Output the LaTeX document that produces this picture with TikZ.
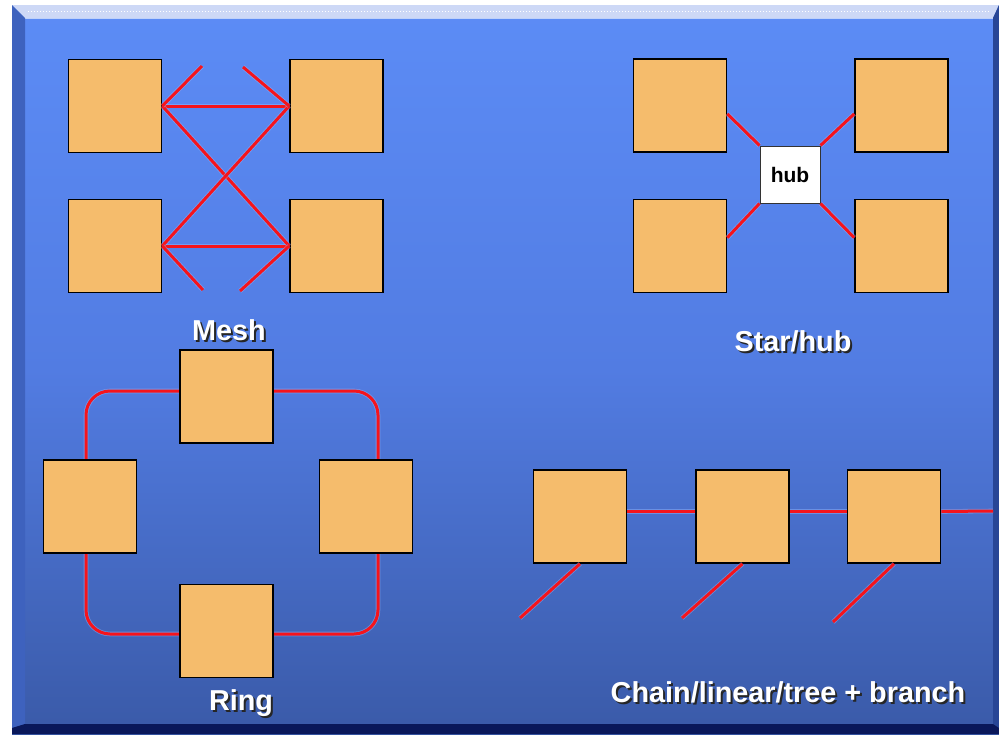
\documentclass[tikz,border=0pt]{standalone}
\usepackage{fontspec}
\setmainfont{Liberation Sans}
\usetikzlibrary{shadings}

\definecolor{panelTop}{RGB}{92,140,246}
\definecolor{panelMid}{RGB}{82,124,226}
\definecolor{panelBot}{RGB}{58,90,168}
\definecolor{bevelTop}{RGB}{205,216,246}
\definecolor{bevelLeft}{RGB}{62,98,190}
\definecolor{bevelRight}{RGB}{40,70,150}
\definecolor{navy}{RGB}{10,24,90}
\definecolor{boxFill}{RGB}{245,188,108}
\definecolor{wire}{RGB}{245,20,28}
\definecolor{halo}{RGB}{150,185,255}

% white caption with a dark drop shadow, set as one piece of text
\newcommand\shadowed[1]{\makebox[0pt][l]{\hspace{2pt}\raisebox{-2pt}{\textcolor{black!85}{#1}}}#1}

\tikzset{
  unit/.style={rectangle, draw=black, line width=1.6pt, fill=boxFill,
    minimum width=93pt, minimum height=93pt, inner sep=0pt},
  hubbox/.style={rectangle, draw=black!80, line width=1pt, fill=white,
    minimum width=60pt, minimum height=57pt, inner sep=0pt,
    font=\fontsize{21}{21}\selectfont\bfseries},
  link/.style={draw=wire, line width=3pt,
    preaction={draw=halo, line width=4.6pt, opacity=0.45}},
  caption/.style={text=white, font=\fontsize{28.8}{29}\selectfont\bfseries, inner sep=0pt}
}

\begin{document}
\begin{tikzpicture}[x=1pt, y=-1pt]
\useasboundingbox (0,0) rectangle (999,734);
\fill[white] (0,0) rectangle (999,734);

% panel with bevelled frame
\shade[top color=panelTop, bottom color=panelBot, middle color=panelMid]
  (12,5) rectangle (999,734);
\fill[bevelTop] (12,5) -- (999,5) -- (993,18) -- (25,18) -- cycle;
\draw[white, line width=1pt, dotted] (28,11) -- (990,11);
\draw[white!60!panelTop, line width=1pt] (25,18.5) -- (993,18.5);
\fill[bevelLeft] (12,5) -- (25,18) -- (25,724) -- (12,734) -- cycle;
\fill[bevelRight] (993,18) -- (999,5) -- (999,734) -- (993,728) -- cycle;
\fill[navy] (12,728) -- (25,724) -- (993,724) -- (999,728) -- (999,734) -- (12,734) -- cycle;

% ---- Mesh ----
\node[unit] (mTL) at (115,106) {};
\node[unit] (mTR) at (336.5,106) {};
\node[unit] (mBL) at (115,246) {};
\node[unit] (mBR) at (336.5,246) {};
\coordinate (mS1) at (202,66);
\coordinate (mS2) at (243,67);
\coordinate (mS3) at (203,290);
\coordinate (mS4) at (240,291);
\draw[link] (mTL.east) -- (mTR.west);
\draw[link] (mBL.east) -- (mBR.west);
\draw[link] (mTL.east) -- (mBR.west);
\draw[link] (mBL.east) -- (mTR.west);
\draw[link] (mTL.east) -- (mS1);
\draw[link] (mTR.west) -- (mS2);
\draw[link] (mBL.east) -- (mS3);
\draw[link] (mBR.west) -- (mS4);
\node[caption] (mesh) at (229,331) {\shadowed{Mesh}};

% ---- Star / hub ----
\node[unit] (sTL) at (680,105.5) {};
\node[unit] (sTR) at (901.5,105.5) {};
\node[unit] (sBL) at (680,246) {};
\node[unit] (sBR) at (901.5,246) {};
\node[hubbox] (hub) at (790,174.5) {hub};
\draw[link] (sTL.-10) -- (hub.north west);
\draw[link] (sTR.190) -- (hub.north east);
\draw[link] (sBL.10) -- (hub.south west);
\draw[link] (sBR.170) -- (hub.south east);
\node[caption] (star) at (793,342) {\shadowed{Star/hub}};

% ---- Ring ----
\draw[link, rounded corners=24pt]
  (226.5,391) -- (86,391) -- (86,634) -- (378,634) -- (378,391) -- cycle;
\node[unit] (rT) at (226.5,396.5) {};
\node[unit] (rL) at (90,506.5) {};
\node[unit] (rR) at (366,506.5) {};
\node[unit] (rB) at (226.5,631) {};
\node[caption] (ring) at (241,704) {\shadowed{Ring}};

% ---- Chain / linear / tree + branch ----
\node[unit] (c1) at (580,516.5) {};
\node[unit] (c2) at (742.5,516.5) {};
\node[unit] (c3) at (894,516.5) {};
\coordinate (cEnd) at (993,511);
\coordinate (b1) at (520,618);
\coordinate (b2) at (682,618);
\coordinate (b3) at (833,622);
\draw[link] ([yshift=5pt]c1.east) -- ([yshift=5pt]c2.west);
\draw[link] ([yshift=5pt]c2.east) -- ([yshift=5pt]c3.west);
\draw[link] ([yshift=5pt]c3.east) -- (cEnd);
\draw[link] (c1.south) -- (b1);
\draw[link] (c2.south) -- (b2);
\draw[link] (c3.south) -- (b3);
\node[caption] (chain) at (788,693) {\shadowed{Chain/linear/tree + branch}};
\end{tikzpicture}
\end{document}
